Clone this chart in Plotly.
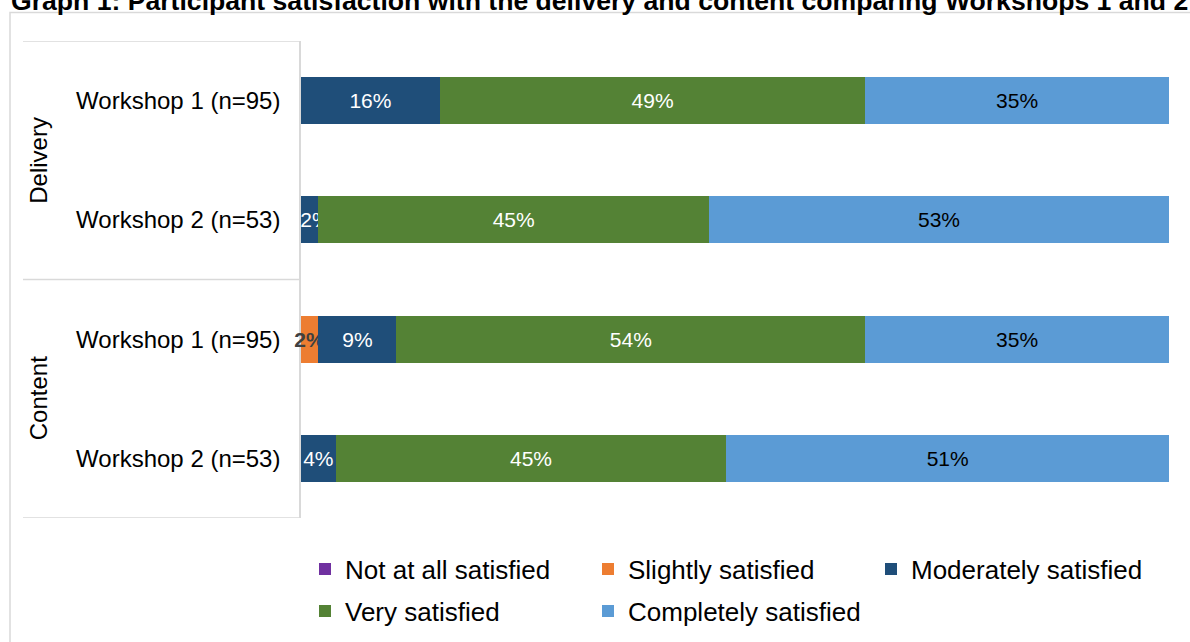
import plotly.graph_objects as go

# Survey rows: grouping and workshop labels (top to bottom)
groups = ["Delivery", "Delivery", "Content", "Content"]
workshops = ["Workshop 1 (n=95)", "Workshop 2 (n=53)", "Workshop 1 (n=95)", "Workshop 2 (n=53)"]

# Percentage of participants per satisfaction level
levels = ["Not at all satisfied", "Slightly satisfied", "Moderately satisfied",
          "Very satisfied", "Completely satisfied"]
not_at_all = [0, 0, 0, 0]
slightly = [0, 0, 2, 0]
moderately = [16, 2, 9, 4]
very = [49, 45, 54, 45]
completely = [35, 53, 35, 51]

colors = ["#7030A0", "#ED7D31", "#1F4E79", "#548235", "#5B9BD5"]
label_colors = ["#FFFFFF", "#404040", "#FFFFFF", "#FFFFFF", "#000000"]
label_weights = ["normal", "bold", "normal", "normal", "normal"]
legend_rows = ["legend", "legend", "legend", "legend2", "legend2"]

FONT = "Liberation Sans, Arial, sans-serif"
GRID = "#D9D9D9"

# Pixel geometry of the plotting area
W, H = 1190, 642
L, R, T, B = 301, 21, 41, 124
PW, PH = W - L - R, H - T - B


def px_x(px):
    return (px - L) / PW


def px_y(py):
    return (H - B - py) / PH


def bar_labels(vals, starts, colour):
    """Percent labels; white labels on very thin segments at the axis are
    nudged right so they stay on the coloured bars instead of the white page."""
    out = []
    for v, s in zip(vals, starts):
        if not v:
            out.append("")
        elif colour == "#FFFFFF" and s == 0 and v < 3:
            out.append("\u00a0\u00a0" + f"{v}%")
        else:
            out.append(f"{v}%")
    return out


row_keys = [f"{g} | {w}" for g, w in zip(groups, workshops)]
series = [not_at_all, slightly, moderately, very, completely]

fig = go.Figure()
running = [0, 0, 0, 0]
for name, vals, col, tcol, tw, lg in zip(levels, series, colors, label_colors,
                                         label_weights, legend_rows):
    fig.add_trace(go.Bar(
        orientation="h",
        y=row_keys,
        x=vals,
        name=name,
        legend=lg,
        marker=dict(color=col, line=dict(width=0)),
        text=bar_labels(vals, running, tcol),
        textposition="inside",
        insidetextanchor="middle",
        textangle=0,
        constraintext="none",
        cliponaxis=False,
        textfont=dict(family=FONT, size=21, color=tcol, weight=tw),
        hovertemplate="%{y}: %{x}%<extra>" + name + "</extra>",
    ))
    running = [a + b for a, b in zip(running, vals)]

# Outer frame and the row-group dividers
shapes = [
    dict(type="rect", xref="paper", yref="paper",
         x0=px_x(10), x1=px_x(W + 10), y0=px_y(H + 10), y1=px_y(12.5),
         line=dict(color=GRID, width=1.5), fillcolor="rgba(0,0,0,0)", layer="below"),
]
for yv in [-0.5, 1.5, 3.5]:
    shapes.append(dict(type="line", xref="paper", yref="y",
                       x0=px_x(23), x1=0, y0=yv, y1=yv,
                       line=dict(color=GRID, width=1.5)))

annotations = [
    dict(text="<b>Graph 1: Participant satisfaction with the delivery and content comparing Workshops 1 and 2</b>",
         xref="paper", yref="paper", x=px_x(9), y=px_y(1), xanchor="left", yanchor="middle",
         showarrow=False, font=dict(family=FONT, size=26.6, color="#000000")),
]
for name, centre in [("Delivery", 0.5), ("Content", 2.5)]:
    annotations.append(dict(text=name, xref="paper", yref="y", x=px_x(23), y=centre,
                            textangle=-90, showarrow=False,
                            font=dict(family=FONT, size=24, color="#000000")))

legend_common = dict(orientation="h", xanchor="left", yanchor="middle",
                     entrywidth=238, entrywidthmode="pixels",
                     font=dict(family=FONT, size=26, color="#000000"),
                     bgcolor="rgba(0,0,0,0)", traceorder="normal")

fig.update_layout(
    width=W, height=H,
    barmode="stack",
    bargap=0.606,
    margin=dict(l=L, r=R, t=T, b=B, autoexpand=False),
    paper_bgcolor="#FFFFFF",
    plot_bgcolor="#FFFFFF",
    font=dict(family=FONT, color="#000000"),
    uniformtext=dict(mode="show", minsize=21),
    xaxis=dict(range=[0, 100], visible=False, fixedrange=True),
    yaxis=dict(type="category", range=[3.5, -0.5], tickvals=row_keys, ticktext=workshops,
               showline=True, linecolor=GRID, linewidth=1.5, ticks="",
               showgrid=False, zeroline=False, ticklabelstandoff=14,
               layer="below traces",
               tickfont=dict(family=FONT, size=24, color="#000000")),
    legend=dict(x=px_x(305), y=px_y(569), **legend_common),
    legend2=dict(x=px_x(305), y=px_y(611), **legend_common),
    shapes=shapes,
    annotations=annotations,
    showlegend=True,
)

fig.write_html("out.html")
